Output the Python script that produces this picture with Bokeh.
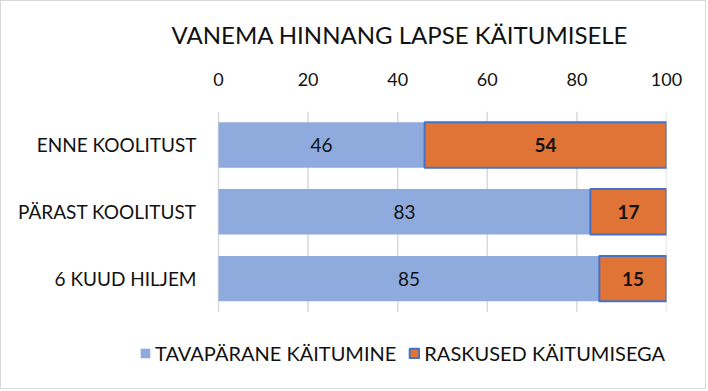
from bokeh.plotting import figure
from bokeh.models import ColumnDataSource, Legend, LegendItem, Range1d, FixedTicker
from bokeh.core.properties import value
from bokeh.embed import file_html
from bokeh.resources import INLINE

categories = ["ENNE KOOLITUST", "PÄRAST KOOLITUST", "6 KUUD HILJEM"]
tavaparane = [46, 83, 85]
raskused = [54, 17, 15]
series_names = ["TAVAPÄRANE KÄITUMINE", "RASKUSED KÄITUMISEGA"]
x_ticks = [0, 20, 40, 60, 80, 100]
title_text = "VANEMA HINNANG LAPSE KÄITUMISELE"

FONT = "Lato"
TXT = "#111111"

n = len(categories)
ypos = [n - 1 - i for i in range(n)]  # first category on top

src = ColumnDataSource(dict(
    cat=categories,
    y=ypos,
    a_end=tavaparane,
    b_end=[x + y for x, y in zip(tavaparane, raskused)],
    a_mid=[x / 2 for x in tavaparane],
    b_mid=[x + y / 2 for x, y in zip(tavaparane, raskused)],
    a_lbl=[str(v) for v in tavaparane],
    b_lbl=[str(v) for v in raskused],
    zero=[0] * n,
))
grid_src = ColumnDataSource(dict(x=x_ticks, y0=[-0.5] * len(x_ticks), y1=[n - 0.5] * len(x_ticks)))

W, H = 706, 389
frame_right_px = 41
px_per_unit = (W - 217 - frame_right_px) / 100.0
x_start = -217 / px_per_unit

band_px = 202 / n
bottom_extra = (H - 108 - 202) / band_px
p = figure(width=W, height=H, output_backend="svg", toolbar_location=None,
           x_range=Range1d(x_start, 100), y_range=Range1d(-0.5 - bottom_extra, n - 0.5),
           x_axis_location="above", y_axis_location=None,
           min_border_left=0, min_border_right=frame_right_px, min_border_top=108, min_border_bottom=0)
p.styles = {"border": "1px solid #d9d9d9"}

p.segment(x0="x", x1="x", y0="y0", y1="y1", source=grid_src, line_color="#d9d9d9", line_width=1.5)

r1 = p.hbar(y="y", left=0, right="a_end", height=0.68, source=src,
            fill_color="#8FAADC", line_color="#8FAADC", line_width=0)
r2 = p.hbar(y="y", left="a_end", right="b_end", height=0.68, source=src,
            fill_color="#DF7436", line_color="#4472C4", line_width=2)

p.text(x="a_mid", y="y", text="a_lbl", source=src, text_align="center", text_baseline="middle",
       text_font_size="19px", text_color=TXT, text_font=value(FONT))
p.text(x="b_mid", y="y", text="b_lbl", source=src, text_align="center", text_baseline="middle",
       text_font_size="19px", text_color=TXT, text_font_style="bold", text_font=value(FONT))
# category labels
p.text(x="zero", y="y", text="cat", source=src, x_offset=-22, text_align="right", text_baseline="middle",
       text_font_size="19px", text_color=TXT, text_font=value(FONT))

p.title.text = title_text
p.title.text_font = FONT
p.title.text_font_size = "24px"
p.title.text_font_style = "normal"
p.title.text_color = TXT
p.title.align = "left"
p.title.vertical_align = "top"
p.title.offset = 170
p.title.standoff = 37

xa = p.xaxis[0]
xa.ticker = FixedTicker(ticks=x_ticks)
xa.axis_line_color = None
xa.major_tick_line_color = None
xa.minor_tick_line_color = None
xa.major_label_text_font = FONT
xa.major_label_text_font_size = "18px"
xa.major_label_text_color = TXT
xa.major_label_standoff = 20

p.xgrid.grid_line_color = None
p.ygrid.grid_line_color = None
p.outline_line_color = None

legend = Legend(items=[LegendItem(label=series_names[0], renderers=[r1]),
                       LegendItem(label=series_names[1], renderers=[r2])],
                orientation="horizontal", location=(138, 25),
                label_text_font=FONT, label_text_font_size="20px", label_text_color=TXT,
                glyph_width=12, glyph_height=12, label_standoff=4, spacing=12,
                border_line_color=None, background_fill_alpha=0, padding=0, margin=0)
p.add_layout(legend, "center")

open("out.html", "w").write(file_html(p, INLINE))
